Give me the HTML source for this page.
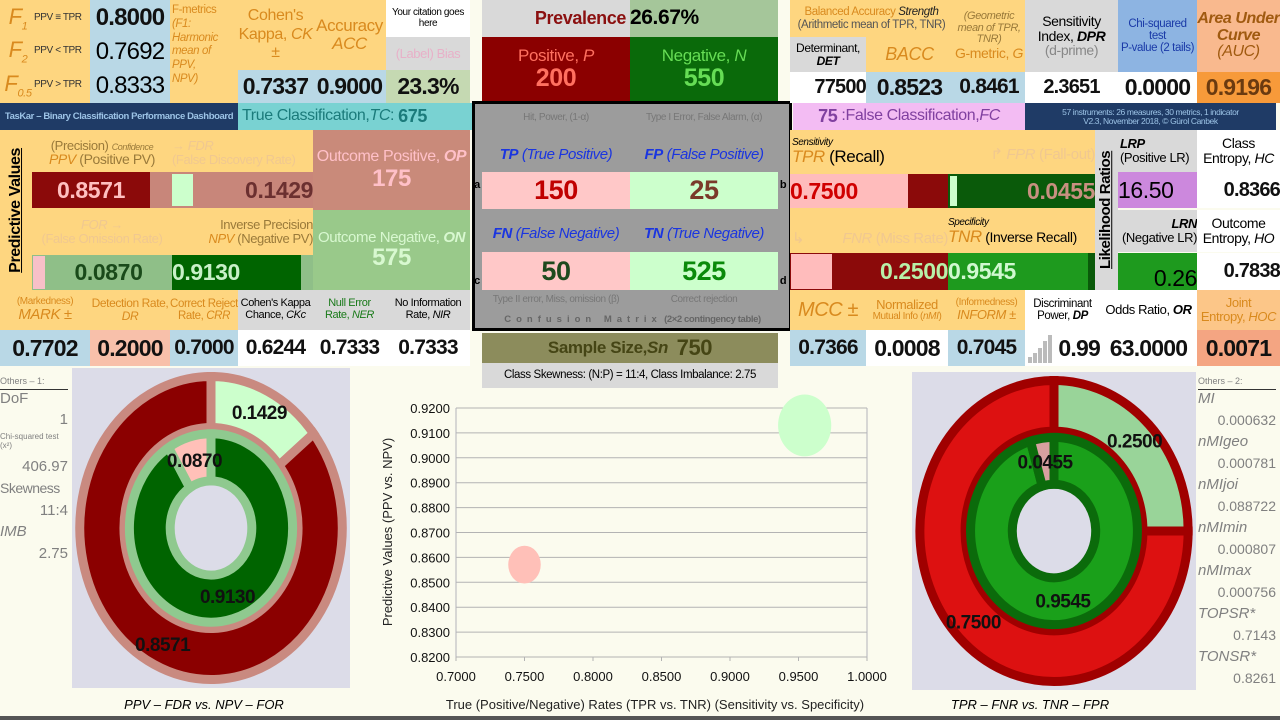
<!DOCTYPE html>
<html><head><meta charset="utf-8">
<style>
body{margin:0;width:1280px;height:720px;overflow:hidden;background:#fbfbee;font-family:"Liberation Sans Narrow","Liberation Sans",sans-serif;position:relative}
.c{position:absolute;display:flex;flex-direction:column;align-items:center;justify-content:center;text-align:center;overflow:hidden;line-height:1.05;box-sizing:border-box;letter-spacing:-0.4px;white-space:nowrap}
.y{background:#fed680}.b{background:#b9d8e6}.g{background:#d9d9d9}.w{background:#fff}
.v{font-weight:bold;font-size:23px;color:#111;letter-spacing:-0.8px}
.o{color:#d98a1e}
i{font-style:italic}
.lst{position:absolute;color:#808080;font-family:"Liberation Sans",sans-serif}
</style></head><body>
<!-- top-left -->
<div class="c y" style="left:0;top:0;width:90px;height:103px"></div>
<div class="c" style="left:2px;top:2px;width:88px;height:33px;flex-direction:row;justify-content:flex-start"><span class="o" style="font-size:22px;font-style:italic;width:32px">F<sub style="font-size:11px">1</sub></span><span style="font-size:10px;color:#333">PPV ≡ TPR</span></div>
<div class="c" style="left:2px;top:35px;width:88px;height:33px;flex-direction:row;justify-content:flex-start"><span class="o" style="font-size:22px;font-style:italic;width:32px">F<sub style="font-size:11px">2</sub></span><span style="font-size:10px;color:#333">PPV &lt; TPR</span></div>
<div class="c" style="left:2px;top:68px;width:88px;height:35px;flex-direction:row;justify-content:flex-start"><span class="o" style="font-size:22px;font-style:italic;width:32px">F<sub style="font-size:11px">0.5</sub></span><span style="font-size:10px;color:#333">PPV &gt; TPR</span></div>
<div class="c b v" style="left:90px;top:0;width:80px;height:35px;font-size:24px">0.8000</div>
<div class="c b" style="left:90px;top:35px;width:80px;height:33px;font-size:24px;letter-spacing:-0.8px">0.7692</div>
<div class="c b" style="left:90px;top:68px;width:80px;height:35px;font-size:24px;letter-spacing:-0.8px">0.8333</div>
<div class="c y o" style="left:170px;top:0;width:68px;height:103px;font-size:11.5px;align-items:flex-start;justify-content:flex-start;padding:4px 2px;text-align:left;white-space:normal;line-height:1.2"><div>F-metrics<br><i>(F1:<br>Harmonic<br>mean of PPV,<br>NPV)</i></div></div>
<div class="c y o" style="left:238px;top:0;width:75px;height:70px;font-size:16px;line-height:1.15"><span>Cohen's</span><span>Kappa, <i>CK</i></span><span>±</span></div>
<div class="c y o" style="left:313px;top:0;width:73px;height:70px;font-size:17px"><span>Accuracy</span><i>ACC</i></div>
<div class="c b v" style="left:238px;top:70px;width:75px;height:33px">0.7337</div>
<div class="c b v" style="left:313px;top:70px;width:73px;height:33px">0.9000</div>
<div class="c w" style="left:386px;top:0;width:84px;height:37px;font-size:10px"><span>Your citation goes</span><span>here</span></div>
<div class="c g" style="left:386px;top:37px;width:84px;height:33px;font-size:13px;color:#e8b0c8">(Label) Bias</div>
<div class="c v" style="left:386px;top:70px;width:84px;height:33px;background:#c5d9b2">23.3%</div>
<div class="c" style="left:0;top:103px;width:238px;height:27px;background:#1f3b66;color:#9cc3e6;font-size:9.5px;font-weight:bold">TasKar – Binary Classification Performance Dashboard</div>
<div class="c" style="left:238px;top:103px;width:236px;height:27px;background:#79d2d2;color:#1b7b7b;font-size:16px;flex-direction:row;justify-content:flex-start;padding-left:4px">True Classification, <i>TC</i>:&nbsp;<b style="font-size:18px">675</b></div>
<!-- predictive values -->
<div class="c y" style="left:0;top:130px;width:313px;height:160px"></div>
<div class="c" style="left:2px;top:140px;width:28px;height:140px"><div style="transform:rotate(-90deg);white-space:nowrap;font-size:16px;font-weight:bold;font-family:'Liberation Sans',sans-serif;text-decoration:underline">Predictive Values</div></div>
<div class="c" style="left:32px;top:134px;width:140px;height:38px;font-size:13px;color:#9a7a3a"><span>(Precision) <i style="font-size:9px">Confidence</i></span><span style="font-size:14px"><i class="o">PPV</i> (Positive PV)</span></div>
<div class="c" style="left:172px;top:134px;width:141px;height:38px;font-size:13px;color:#f0c890;align-items:flex-start"><i>→ FDR</i><span>(False Discovery Rate)</span></div>
<div class="c" style="left:32px;top:172px;width:118px;height:36px;background:#8b0a0a;color:#ffc0c0;font-size:23px;font-weight:bold">0.8571</div>
<div class="c" style="left:150px;top:172px;width:163px;height:36px;background:#c8867a"></div>
<div class="c" style="left:172px;top:174px;width:21px;height:32px;background:#ccffcc"></div>
<div class="c" style="left:193px;top:172px;width:120px;height:36px;color:#6b3030;font-size:23px;font-weight:bold;align-items:flex-end">0.1429</div>
<div class="c" style="left:313px;top:130px;width:157px;height:80px;background:#c98a7a;color:#ffc0c8;font-size:16px"><span>Outcome Positive, <b><i>OP</i></b></span><b style="font-size:24px">175</b></div>
<div class="c" style="left:32px;top:212px;width:140px;height:40px;font-size:13px;color:#f0c890"><i>FOR →</i><span>(False Omission Rate)</span></div>
<div class="c" style="left:172px;top:212px;width:141px;height:40px;font-size:13px;color:#9a7a3a;align-items:flex-end"><span>Inverse Precision</span><span><i class="o">NPV</i> (Negative PV)</span></div>
<div class="c" style="left:32px;top:255px;width:281px;height:35px;background:#8fbf88"></div>
<div class="c" style="left:33px;top:256px;width:12px;height:33px;background:#f8c0c8"></div>
<div class="c" style="left:45px;top:255px;width:127px;height:35px;color:#1a4a1a;font-size:23px;font-weight:bold">0.0870</div>
<div class="c" style="left:172px;top:255px;width:129px;height:35px;background:#006400;color:#c8f0c8;font-size:23px;font-weight:bold;align-items:flex-start">0.9130</div>
<div class="c" style="left:313px;top:210px;width:157px;height:80px;background:#99c98a;color:#d8f8d0;font-size:15px"><span>Outcome Negative, <b><i>ON</i></b></span><b style="font-size:24px">575</b></div>
<!-- bottom-left row -->
<div class="c y o" style="left:0;top:290px;width:90px;height:40px;font-size:15px"><span style="font-size:10px">(Markedness)</span><i>MARK ±</i></div>
<div class="c y o" style="left:90px;top:290px;width:80px;height:40px;font-size:12px"><span>Detection Rate,</span><i>DR</i></div>
<div class="c y o" style="left:170px;top:290px;width:68px;height:40px;font-size:11.5px"><span>Correct Reject</span><span>Rate, <i>CRR</i></span></div>
<div class="c g" style="left:238px;top:290px;width:75px;height:40px;font-size:11px"><span>Cohen's Kappa</span><span>Chance, <i>CKc</i></span></div>
<div class="c g" style="left:313px;top:290px;width:73px;height:40px;font-size:11px;color:#1a7a1a"><span>Null Error</span><span>Rate, <i>NER</i></span></div>
<div class="c g" style="left:386px;top:290px;width:84px;height:40px;font-size:11px"><span>No Information</span><span>Rate, <i>NIR</i></span></div>
<div class="c b v" style="left:0;top:330px;width:90px;height:36px">0.7702</div>
<div class="c v" style="left:90px;top:330px;width:80px;height:36px;background:#f8c0aa">0.2000</div>
<div class="c b v" style="left:170px;top:330px;width:68px;height:36px;font-size:21px">0.7000</div>
<div class="c w v" style="left:238px;top:330px;width:75px;height:36px;font-size:21px">0.6244</div>
<div class="c w v" style="left:313px;top:330px;width:73px;height:36px;font-size:21px">0.7333</div>
<div class="c w v" style="left:386px;top:330px;width:84px;height:36px;font-size:21px">0.7333</div>
<!-- center -->
<div class="c g" style="left:482px;top:0;width:148px;height:37px;color:#8b1010;font-size:18px;font-weight:bold;align-items:flex-end;padding-right:4px">Prevalence</div>
<div class="c" style="left:630px;top:0;width:148px;height:37px;background:#a5c69a;font-size:21px;font-weight:bold;align-items:flex-start">26.67%</div>
<div class="c" style="left:482px;top:37px;width:148px;height:64px;background:#8b0000;color:#ff7060;font-size:17px"><span>Positive, <i>P</i></span><b style="font-size:25px">200</b></div>
<div class="c" style="left:630px;top:37px;width:148px;height:64px;background:#0a6a0a;color:#66dd55;font-size:17px"><span>Negative, <i>N</i></span><b style="font-size:25px">550</b></div>
<div class="c" style="left:472px;top:101px;width:320px;height:230px;background:#9c9c9c;border:3px solid #000"></div>
<div class="c" style="left:482px;top:108px;width:148px;height:20px;font-size:10px;color:#777">Hit, Power, (1-α)</div>
<div class="c" style="left:630px;top:108px;width:148px;height:20px;font-size:10px;color:#777">Type I Error, False Alarm, (α)</div>
<div class="c" style="left:482px;top:140px;width:148px;height:30px;font-size:15px;color:#1a35e0"><span><b><i>TP</i></b> <i>(True Positive)</i></span></div>
<div class="c" style="left:630px;top:140px;width:148px;height:30px;font-size:15px;color:#1a35e0"><span><b><i>FP</i></b> <i>(False Positive)</i></span></div>
<div class="c" style="left:482px;top:172px;width:148px;height:37px;background:#ffc8c8;color:#c00000;font-size:27px;font-weight:bold">150</div>
<div class="c" style="left:630px;top:172px;width:148px;height:37px;background:#ccffcc;color:#7a3a2a;font-size:27px;font-weight:bold">25</div>
<div class="c" style="left:482px;top:219px;width:148px;height:30px;font-size:15px;color:#1a35e0"><span><b><i>FN</i></b> <i>(False Negative)</i></span></div>
<div class="c" style="left:630px;top:219px;width:148px;height:30px;font-size:15px;color:#1a35e0"><span><b><i>TN</i></b> <i>(True Negative)</i></span></div>
<div class="c" style="left:482px;top:252px;width:148px;height:38px;background:#ffc8c8;color:#1e4a1e;font-size:27px;font-weight:bold">50</div>
<div class="c" style="left:630px;top:252px;width:148px;height:38px;background:#ccffcc;color:#0a8a0a;font-size:27px;font-weight:bold">525</div>
<div class="c" style="left:472px;top:176px;width:10px;height:20px;font-size:11px;font-weight:bold">a</div>
<div class="c" style="left:778px;top:176px;width:10px;height:20px;font-size:11px;font-weight:bold">b</div>
<div class="c" style="left:472px;top:272px;width:10px;height:20px;font-size:11px;font-weight:bold">c</div>
<div class="c" style="left:778px;top:272px;width:10px;height:20px;font-size:11px;font-weight:bold">d</div>
<div class="c" style="left:482px;top:291px;width:148px;height:18px;font-size:10px;color:#777">Type II error, Miss, omission (β)</div>
<div class="c" style="left:630px;top:291px;width:148px;height:18px;font-size:10px;color:#777">Correct rejection</div>
<div class="c" style="left:475px;top:312px;width:315px;height:16px;font-size:9.5px;color:#666;font-weight:bold"><span><span style="letter-spacing:5px">Confusion Matrix</span> (2×2 contingency table)</span></div>
<div class="c" style="left:482px;top:333px;width:296px;height:30px;background:#8c8c5c;color:#454515;font-size:17px;font-weight:bold;flex-direction:row">Sample Size, <i>Sn</i>&nbsp;&nbsp;<span style="font-size:22px">750</span></div>
<div class="c g" style="left:482px;top:363px;width:296px;height:25px;font-size:11.5px;font-family:'Liberation Sans',sans-serif">Class Skewness: (N:P) = 11:4, Class Imbalance: 2.75</div>
<!-- top-right -->
<div class="c y o" style="left:790px;top:0;width:163px;height:37px;font-size:11.5px"><span>Balanced Accuracy <i style="color:#222">Strength</i></span><span style="color:#555">(Arithmetic mean of TPR, TNR)</span></div>
<div class="c g" style="left:790px;top:37px;width:76px;height:35px;font-size:12px"><span>Determinant,</span><b><i>DET</i></b></div>
<div class="c y o" style="left:866px;top:37px;width:87px;height:35px;font-size:18px"><i>BACC</i></div>
<div class="c y o" style="left:953px;top:0;width:72px;height:72px;font-size:11px"><i style="color:#9a7a3a">(Geometric<br>mean of TPR,<br>TNR)</i><span style="font-size:14px">G-metric, <i>G</i></span></div>
<div class="c g" style="left:1025px;top:0;width:93px;height:72px;font-size:14px"><span>Sensitivity</span><span>Index, <b><i>DPR</i></b></span><span style="color:#888">(d-prime)</span></div>
<div class="c" style="left:1118px;top:0;width:79px;height:72px;background:#8db4e2;color:#1a3aa8;font-size:11.5px"><span>Chi-squared</span><span>test</span><span>P-value (2 tails)</span></div>
<div class="c" style="left:1197px;top:0;width:83px;height:72px;background:#f9b98e;color:#a05a10;font-size:16px;font-weight:bold"><i>Area Under<br>Curve</i><i style="font-weight:normal">(AUC)</i></div>
<div class="c w v" style="left:790px;top:72px;width:76px;height:31px;font-size:20px;align-items:flex-end">77500</div>
<div class="c b v" style="left:866px;top:72px;width:87px;height:31px">0.8523</div>
<div class="c b v" style="left:953px;top:72px;width:72px;height:31px;font-size:21px">0.8461</div>
<div class="c w v" style="left:1025px;top:72px;width:93px;height:31px;font-size:20px">2.3651</div>
<div class="c w v" style="left:1118px;top:72px;width:79px;height:31px">0.0000</div>
<div class="c v" style="left:1197px;top:72px;width:83px;height:31px;background:#f79a3a;color:#6a3a10">0.9196</div>
<div class="c" style="left:793px;top:103px;width:232px;height:27px;background:#f3bcf3;color:#8040a0;font-size:16px;flex-direction:row"><b style="font-size:18px">75</b>&nbsp;:False Classification, <i>FC</i></div>
<div class="c" style="left:1025px;top:103px;width:251px;height:27px;background:#1f3b66;color:#9cc3e6;font-size:8.5px"><span>57 instruments: 26 measures, 30 metrics, 1 indicator</span><span>V2.3, November 2018, © Gürol Canbek</span></div>
<!-- recall area -->
<div class="c y" style="left:790px;top:130px;width:305px;height:160px"></div>
<div class="c" style="left:792px;top:132px;width:120px;height:40px;align-items:flex-start;font-size:17px"><i style="font-size:10px">Sensitivity</i><span><i class="o">TPR</i> (Recall)</span></div>
<div class="c" style="left:970px;top:140px;width:125px;height:30px;color:#f0c890;font-size:15px;align-items:flex-end"><span>↱ <i>FPR</i> (Fall-out)</span></div>
<div class="c" style="left:790px;top:174px;width:158px;height:34px;background:#8b0a0a"></div>
<div class="c" style="left:790px;top:174px;width:118px;height:34px;background:#ffbcbc;color:#d00000;font-size:23px;font-weight:bold;align-items:flex-start">0.7500</div>
<div class="c" style="left:948px;top:174px;width:147px;height:34px;background:#0a5a0a;color:#c89080;font-size:23px;font-weight:bold;align-items:flex-end">0.0455</div>
<div class="c" style="left:950px;top:176px;width:7px;height:30px;background:#ccffcc"></div>
<div class="c" style="left:948px;top:212px;width:147px;height:40px;align-items:flex-start;font-size:14px"><i style="font-size:10px">Specificity</i><span><i class="o" style="font-size:17px">TNR</i> (Inverse Recall)</span></div>
<div class="c" style="left:792px;top:225px;width:156px;height:28px;color:#f0c890;font-size:15px;flex-direction:row;justify-content:space-between"><span>↳</span><span><i>FNR</i> (Miss Rate)</span></div>
<div class="c" style="left:790px;top:253px;width:158px;height:37px;background:#8b0a0a;color:#b8f0a8;font-size:23px;font-weight:bold;align-items:flex-end">0.2500</div>
<div class="c" style="left:791px;top:254px;width:41px;height:35px;background:#ffbcbc"></div>
<div class="c" style="left:948px;top:253px;width:147px;height:37px;background:#0a5a0a"></div>
<div class="c" style="left:948px;top:253px;width:140px;height:37px;background:#1e9a1e;color:#d0f8d0;font-size:23px;font-weight:bold;align-items:flex-start">0.9545</div>
<div class="c g" style="left:1095px;top:130px;width:23px;height:160px"><div style="transform:rotate(-90deg);white-space:nowrap;font-size:15px;font-weight:bold;font-family:'Liberation Sans',sans-serif;text-decoration:underline">Likelihood Ratios</div></div>
<div class="c g" style="left:1118px;top:130px;width:79px;height:42px;align-items:flex-start;font-size:13px;padding-left:2px"><b><i>LRP</i></b><span>(Positive LR)</span></div>
<div class="c" style="left:1118px;top:172px;width:79px;height:36px;background:#cc88dd;font-size:23px;align-items:flex-start">16.50</div>
<div class="c g" style="left:1118px;top:210px;width:79px;height:42px;align-items:flex-end;font-size:13px"><b><i>LRN</i></b><span>(Negative LR)</span></div>
<div class="c" style="left:1118px;top:253px;width:79px;height:37px;background:#1e9a1e;font-size:23px;align-items:flex-end;justify-content:flex-end">0.26</div>
<div class="c w" style="left:1197px;top:130px;width:83px;height:42px;font-size:14px"><span>Class</span><span>Entropy, <i>HC</i></span></div>
<div class="c w v" style="left:1197px;top:172px;width:83px;height:36px;font-size:20px;align-items:flex-end">0.8366</div>
<div class="c w" style="left:1197px;top:210px;width:83px;height:42px;font-size:14px"><span>Outcome</span><span>Entropy, <i>HO</i></span></div>
<div class="c w v" style="left:1197px;top:253px;width:83px;height:37px;font-size:20px;align-items:flex-end">0.7838</div>
<!-- bottom-right row -->
<div class="c y o" style="left:790px;top:290px;width:76px;height:40px;font-size:20px"><i>MCC ±</i></div>
<div class="c y o" style="left:866px;top:290px;width:82px;height:40px;font-size:13px"><span>Normalized</span><span style="font-size:10px">Mutual Info (<i>nMI</i>)</span></div>
<div class="c y o" style="left:948px;top:290px;width:77px;height:40px;font-size:13px"><span style="font-size:10px">(Informedness)</span><i>INFORM ±</i></div>
<div class="c w" style="left:1025px;top:290px;width:75px;height:40px;font-size:11.5px"><span>Discriminant</span><span>Power, <b><i>DP</i></b></span></div>
<div class="c w" style="left:1100px;top:290px;width:97px;height:40px;font-size:13px"><span>Odds Ratio, <b><i>OR</i></b></span></div>
<div class="c" style="left:1197px;top:290px;width:83px;height:40px;background:#fcc688;color:#d98a1e;font-size:13px"><span>Joint</span><span>Entropy, <i>HOC</i></span></div>
<div class="c b v" style="left:790px;top:330px;width:76px;height:36px;font-size:21px">0.7366</div>
<div class="c w v" style="left:866px;top:330px;width:82px;height:36px">0.0008</div>
<div class="c b v" style="left:948px;top:330px;width:77px;height:36px;font-size:21px">0.7045</div>
<div class="c w v" style="left:1025px;top:330px;width:75px;height:36px;align-items:flex-end">0.99</div>
<svg style="position:absolute;left:1028px;top:333px" width="26" height="30"><g fill="#bbb"><rect x="0" y="24" width="4" height="6"/><rect x="5" y="20" width="4" height="10"/><rect x="10" y="15" width="4" height="15"/><rect x="15" y="8" width="4" height="22"/><rect x="20" y="2" width="4" height="28"/></g></svg>
<div class="c w v" style="left:1100px;top:330px;width:97px;height:36px">63.0000</div>
<div class="c v" style="left:1197px;top:330px;width:83px;height:36px;background:#f4a582">0.0071</div>

<!-- left list -->
<div class="lst" style="left:0;top:376px;width:68px">
<div style="font-size:9px;border-bottom:1px solid #333;height:13px">Others – 1:</div>
<div style="font-size:15px;height:21px">DoF</div>
<div style="font-size:15px;height:21px;text-align:right">1</div>
<div style="font-size:8px;height:26px">Chi-squared test<br>(x²)</div>
<div style="font-size:15px;height:22px;text-align:right">406.97</div>
<div style="font-size:14px;height:22px;letter-spacing:-0.5px">Skewness</div>
<div style="font-size:15px;height:21px;text-align:right">11:4</div>
<div style="font-size:15px;height:22px;font-style:italic">IMB</div>
<div style="font-size:15px;height:22px;text-align:right">2.75</div>
</div>
<div class="lst" style="left:1198px;top:376px;width:78px">
<div style="font-size:9px;border-bottom:1px solid #333;height:13px">Others – 2:</div>
<div style="font-size:15px;height:21.5px;font-style:italic">MI</div><div style="font-size:14px;height:21.5px;text-align:right">0.000632</div>
<div style="font-size:15px;height:21.5px;font-style:italic">nMIgeo</div><div style="font-size:14px;height:21.5px;text-align:right">0.000781</div>
<div style="font-size:15px;height:21.5px;font-style:italic">nMIjoi</div><div style="font-size:14px;height:21.5px;text-align:right">0.088722</div>
<div style="font-size:15px;height:21.5px;font-style:italic">nMImin</div><div style="font-size:14px;height:21.5px;text-align:right">0.000807</div>
<div style="font-size:15px;height:21.5px;font-style:italic">nMImax</div><div style="font-size:14px;height:21.5px;text-align:right">0.000756</div>
<div style="font-size:15px;height:21.5px;font-style:italic">TOPSR*</div><div style="font-size:14px;height:21.5px;text-align:right">0.7143</div>
<div style="font-size:15px;height:21.5px;font-style:italic">TONSR*</div><div style="font-size:14px;height:21.5px;text-align:right">0.8261</div>
</div>

<svg id="chart" style="position:absolute;left:0;top:0" width="1280" height="720"></svg>
<div style="position:absolute;left:0;top:716px;width:1280px;height:4px;background:#555"></div>

<script>
const leftOuterLabels=["FDR","PPV"];
const leftOuterValues=[0.1429,0.8571];
const leftInnerLabels=["NPV","FOR"];
const leftInnerValues=[0.9130,0.0870];
const rightOuterLabels=["FNR","TPR"];
const rightOuterValues=[0.2500,0.7500];
const rightInnerLabels=["TNR","FPR"];
const rightInnerValues=[0.9545,0.0455];
const scatterNames=["PPV vs TPR","NPV vs TNR"];
const scatterX=[0.7500,0.9545];
const scatterY=[0.8571,0.9130];
const scatterSize=[1.1,2.95];
const xTicks=[0.70,0.75,0.80,0.85,0.90,0.95,1.00];
const yTicks=[0.82,0.83,0.84,0.85,0.86,0.87,0.88,0.89,0.90,0.91,0.92];

const NS="http://www.w3.org/2000/svg";
const svg=document.getElementById('chart');
function mk(tag,attrs,parent){const e=document.createElementNS(NS,tag);for(const k in attrs)e.setAttribute(k,attrs[k]);(parent||svg).appendChild(e);return e;}

function donut(name,cx,cy,rx,ry,bg,rings){
  const g=mk('g',{});
  
  
  const bgr=mk('rect',{x:cx-rx-3,y:cy-ry-3,width:(rx+3)*2,height:(ry+3)*2,fill:bg},g);
  
  
  const sy=ry/rx;
  rings.forEach(r=>{
    let a=0;const tot=r.values.reduce((s,v)=>s+v,0);
    r.values.forEach((v,i)=>{
      const a0=a/tot*2*Math.PI, a1=(a+v)/tot*2*Math.PI; a+=v;
      const R=r.ro*rx, Ri=r.ri*rx;
      const P=(rad,ang)=>[cx+rad*Math.sin(ang),cy-rad*Math.cos(ang)*sy];
      const large=(a1-a0)>Math.PI?1:0;
      const p1=P(R,a0),p2=P(R,a1),p3=P(Ri,a1),p4=P(Ri,a0);
      const d=`M${p1}A${R},${R*sy} 0 ${large} 1 ${p2}L${p3}A${Ri},${Ri*sy} 0 ${large} 0 ${p4}Z`;
      const s=mk('path',{d:d,fill:r.colors[i],stroke:r.border,'stroke-width':r.bw},g);
      
      
      const mid=(a0+a1)/2, lr=r.lr*rx;
      const t=mk('text',{x:cx+lr*Math.sin(mid),y:cy-lr*Math.cos(mid)*sy+7,'text-anchor':'middle','font-size':19,'font-weight':'bold','font-family':'Liberation Sans, sans-serif',fill:'#111','letter-spacing':'-0.5'},g);
      t.textContent=v.toFixed(4);
      
      
    });
  });
}
donut('left-donut',211,528,136,157,'#dcdce8',[
 {labels:leftOuterLabels,values:leftOuterValues,colors:['#ccffcc','#8b0000'],border:'#c98a80',bw:9,ro:0.965,ri:0.64,lr:0.82},
 {labels:leftInnerLabels,values:leftInnerValues,colors:['#006400','#ffc0b8'],border:'#8fc98f',bw:9,ro:0.6,ri:0.3,lr:0.45}
]);
donut('right-donut',1054,531,139,156,'#dcdce8',[
 {labels:rightOuterLabels,values:rightOuterValues,colors:['#99d499','#dd1111'],border:'#a00000',bw:9,ro:0.965,ri:0.64,lr:0.82},
 {labels:rightInnerLabels,values:rightInnerValues,colors:['#1aa01a','#d8a0a0'],border:'#0b6b0b',bw:9,ro:0.6,ri:0.3,lr:0.45}
]);
const cap1=mk('text',{x:204,y:709,'text-anchor':'middle','font-size':13,'font-style':'italic','font-family':'Liberation Sans, sans-serif'});
cap1.textContent='PPV – FDR vs. NPV – FOR';


const cap2=mk('text',{x:1030,y:709,'text-anchor':'middle','font-size':13,'font-style':'italic','font-family':'Liberation Sans, sans-serif'});
cap2.textContent='TPR – FNR vs. TNR – FPR';



// scatter
const X0=456,X1=867,Y0=657,Y1=408;
const xs=v=>X0+(v-0.70)/(1.00-0.70)*(X1-X0);
const ys=v=>Y0-(v-0.82)/(0.92-0.82)*(Y0-Y1);
const sg=mk('g',{});


yTicks.forEach(t=>{
  const l=mk('line',{x1:X0,x2:X1,y1:ys(t),y2:ys(t),stroke:'#b3b3b3','stroke-width':1},sg);
  
  
  const tx=mk('text',{x:X0-6,y:ys(t)+5,'text-anchor':'end','font-size':13,'font-family':'Liberation Sans, sans-serif',fill:'#111'},sg);
  tx.textContent=t.toFixed(4);
  
  
});
xTicks.forEach(t=>{
  const l=mk('line',{x1:xs(t),x2:xs(t),y1:Y0,y2:Y0+4,stroke:'#b3b3b3'},sg);
  
  
  const tx=mk('text',{x:xs(t),y:Y0+24,'text-anchor':'middle','font-size':13,'font-family':'Liberation Sans, sans-serif',fill:'#111'},sg);
  tx.textContent=t.toFixed(4);
  
  
});
const ax=mk('line',{x1:X0,x2:X0,y1:Y1,y2:Y0,stroke:'#b3b3bb'},sg);


const ax2=mk('line',{x1:X1,x2:X1,y1:Y1,y2:Y0,stroke:'#b3b3bb'},sg);


const bcol=['#ffc0b8','#ccffcc'];
scatterX.forEach((v,i)=>{
  const r=18*Math.sqrt(scatterSize[i]);
  const e=mk('ellipse',{cx:xs(v),cy:ys(scatterY[i]),rx:r*0.86,ry:r,fill:bcol[i]},sg);
  
  
});
const xt=mk('text',{x:655,y:709,'text-anchor':'middle','font-size':13,'font-family':'Liberation Sans, sans-serif',fill:'#222'},sg);
xt.textContent='True (Positive/Negative) Rates (TPR vs. TNR) (Sensitivity vs. Specificity)';


const yt=mk('text',{x:392,y:532,'text-anchor':'middle','font-size':13,'font-family':'Liberation Sans, sans-serif',fill:'#222',transform:'rotate(-90 392 532)'},sg);
yt.textContent='Predictive Values (PPV vs. NPV)';


</script>
</body></html>
